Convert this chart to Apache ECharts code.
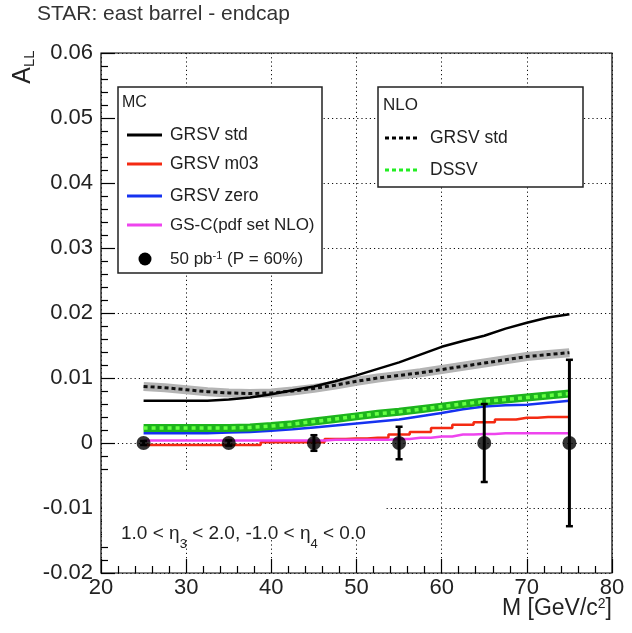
<!DOCTYPE html>
<html>
<head>
<meta charset="utf-8">
<script src="https://cdn.jsdelivr.net/npm/echarts@6/dist/echarts.min.js"></script>
<style>
  html, body { margin: 0; padding: 0; background: #fff; }
  #chart { width: 632px; height: 633px; }
</style>
</head>
<body>
<div id="chart"></div>
<script>
// Dijet invariant mass bins (GeV/c^2) at which the predictions are sampled
const massBins = [25, 27.5, 30, 32.5, 35, 37.5, 40, 42.5, 45, 47.5, 50, 52.5, 55, 57.5, 60, 62.5, 65, 67.5, 70, 72.5, 75];

// MC predictions of A_LL
const mcGrsvStd  = [0.0065, 0.0065, 0.0065, 0.0065, 0.0067, 0.0070, 0.0075, 0.0081, 0.0087, 0.0095, 0.0104, 0.0114, 0.0124, 0.0136, 0.0148, 0.0157, 0.0165, 0.0176, 0.0185, 0.0193, 0.0198];
const mcGrsvM03  = [-0.0003, -0.0003, -0.0003, -0.0003, -0.0003, -0.0003, 0.0001, 0.0001, 0.0001, 0.0006, 0.0007, 0.0008, 0.0013, 0.0017, 0.0023, 0.0028, 0.0032, 0.0036, 0.0039, 0.0040, 0.0040];
const mcGrsvZero = [0.0015, 0.0015, 0.0015, 0.0015, 0.0016, 0.0017, 0.0019, 0.0021, 0.0024, 0.0027, 0.0030, 0.0033, 0.0036, 0.0041, 0.0046, 0.0052, 0.0056, 0.0058, 0.0059, 0.0062, 0.0065];
const mcGsc      = [0.0004, 0.0004, 0.0004, 0.0004, 0.0004, 0.0004, 0.0004, 0.0004, 0.0004, 0.0005, 0.0005, 0.0005, 0.0006, 0.0008, 0.0010, 0.0013, 0.0014, 0.0015, 0.0015, 0.0015, 0.0015];

// NLO predictions of A_LL
const nloGrsvStd = [0.0087, 0.0085, 0.0082, 0.0079, 0.0077, 0.0076, 0.0077, 0.0080, 0.0084, 0.0089, 0.0095, 0.0100, 0.0104, 0.0108, 0.0113, 0.0118, 0.0123, 0.0128, 0.0133, 0.0136, 0.0139];
const nloDssv    = [0.0023, 0.0023, 0.0023, 0.0023, 0.0023, 0.0024, 0.0026, 0.0029, 0.0033, 0.0037, 0.0041, 0.0045, 0.0048, 0.0052, 0.0056, 0.0060, 0.0064, 0.0067, 0.0070, 0.0073, 0.0076];

// Projected measurement, 50 pb^-1 with P = 60%
const pointMass = [25, 35, 45, 55, 65, 75];
const pointAll  = [0, 0, 0, 0, 0, 0];
const pointErr  = [0.0003, 0.0004, 0.0012, 0.0025, 0.0060, 0.0128];

// Axis tick values
const xTicks = [20, 30, 40, 50, 60, 70, 80];
const yTicks = [-0.02, -0.01, 0, 0.01, 0.02, 0.03, 0.04, 0.05, 0.06];

const FONT = '"Liberation Sans", Arial, Helvetica, sans-serif';
const TXT = '#222';

const zip = (xs, ys) => xs.map((x, i) => [x, ys[i]]);

const chart = echarts.init(document.getElementById('chart'), null, { renderer: 'canvas' });

const dotted = { color: '#111', width: 1, type: [1.2, 3] };

function mcLine(name, values, color, step) {
  return {
    name, type: 'line', data: zip(massBins, values), step: step ? 'middle' : false,
    showSymbol: false, silent: true, z: 3,
    lineStyle: { color, width: 2.5 }
  };
}

const option = {
  animation: false,
  grid: { left: 101, right: 20, top: 53, bottom: 60, show: true, borderColor: '#000', borderWidth: 1.2, backgroundColor: 'transparent' },
  xAxis: {
    type: 'value', min: xTicks[0], max: xTicks[xTicks.length - 1], interval: 10,
    axisLine: { show: false, onZero: false },
    axisTick: { show: true, inside: true, length: 14, lineStyle: { color: '#000', width: 1.2 } },
    minorTick: { show: true, splitNumber: 5, length: 7, lineStyle: { color: '#000', width: 1.2 } },
    splitLine: { show: true, lineStyle: dotted },
    axisLabel: { fontFamily: FONT, fontSize: 22, color: TXT, margin: 4,
      formatter: v => xTicks.includes(Math.round(v)) ? String(Math.round(v)) : '' }
  },
  yAxis: {
    type: 'value', min: yTicks[0], max: yTicks[yTicks.length - 1], interval: 0.01,
    axisLine: { show: false, onZero: false },
    axisTick: { show: true, inside: true, length: 14, lineStyle: { color: '#000', width: 1.2 } },
    minorTick: { show: true, splitNumber: 5, length: 7, lineStyle: { color: '#000', width: 1.2 } },
    splitLine: { show: true, lineStyle: dotted },
    axisLabel: { fontFamily: FONT, fontSize: 22, color: TXT, margin: 8,
      formatter: v => Math.abs(v) < 1e-9 ? '0' : v.toFixed(2) }
  },
  series: [
    // NLO GRSV std: grey band with black dashed centre
    { name: 'NLO GRSV std band', type: 'line', data: zip(massBins, nloGrsvStd), showSymbol: false, silent: true, z: 2,
      lineStyle: { color: '#b4b4b4', width: 9 } },
    { name: 'NLO GRSV std', type: 'line', data: zip(massBins, nloGrsvStd), showSymbol: false, silent: true, z: 3,
      lineStyle: { color: '#111', width: 3, type: [4, 3] } },
    mcLine('GRSV std', mcGrsvStd, '#000', false),
    mcLine('GRSV m03', mcGrsvM03, '#f42a12', true),
    mcLine('GRSV zero', mcGrsvZero, '#1632f0', false),
    mcLine('GS-C', mcGsc, '#ee44ee', true),
    // NLO DSSV: green band with bright green dashes
    { name: 'DSSV band', type: 'line', data: zip(massBins, nloDssv), showSymbol: false, silent: true, z: 4,
      lineStyle: { color: '#1cb41c', width: 8 } },
    { name: 'DSSV', type: 'line', data: zip(massBins, nloDssv), showSymbol: false, silent: true, z: 4,
      lineStyle: { color: '#66ff44', width: 3.5, type: [4, 4] } },
    // statistical error bars
    { name: 'errors', type: 'custom', silent: true, z: 6,
      data: pointMass.map((m, i) => [m, pointAll[i], pointErr[i]]),
      encode: { x: 0, y: 1 },
      renderItem(params, api) {
        const x = api.value(0), y = api.value(1), e = api.value(2);
        const t = api.coord([x, y + e]);
        const b = api.coord([x, y - e]);
        const st = { stroke: '#000', lineWidth: 3 };
        return { type: 'group', children: [
          { type: 'line', shape: { x1: t[0], y1: t[1], x2: b[0], y2: b[1] }, style: st },
          { type: 'line', shape: { x1: t[0] - 3.5, y1: t[1], x2: t[0] + 3.5, y2: t[1] }, style: { stroke: '#000', lineWidth: 2.5 } },
          { type: 'line', shape: { x1: b[0] - 3.5, y1: b[1], x2: b[0] + 3.5, y2: b[1] }, style: { stroke: '#000', lineWidth: 2.5 } }
        ] };
      }
    },
    { name: '50 pb-1', type: 'scatter', data: zip(pointMass, pointAll), symbol: 'circle', symbolSize: 14, silent: true, z: 7,
      itemStyle: { color: '#000' } }
  ],
  graphic: [
    // title
    { type: 'text', left: 37, top: 4, z: 20, style: { text: 'STAR: east barrel - endcap', font: '21px ' + FONT, fill: '#333' } },
    // y-axis title
    { type: 'text', x: 23, y: 67, rotation: Math.PI / 2, z: 20,
      style: { text: '{a|A}{s|LL}', align: 'center', verticalAlign: 'middle', fill: TXT,
        rich: { a: { fontFamily: FONT, fontSize: 25, lineHeight: 28, fill: TXT, color: TXT },
                s: { fontFamily: FONT, fontSize: 15, lineHeight: 15, verticalAlign: 'bottom', fill: TXT, color: TXT } } } },
    // x-axis title
    { type: 'text', x: 612, y: 609, z: 20,
      style: { text: 'M [GeV/c{p|2}]', align: 'right', verticalAlign: 'middle', font: '23px ' + FONT, fill: TXT,
        rich: { p: { fontFamily: FONT, fontSize: 14, lineHeight: 14, verticalAlign: 'top', fill: TXT, color: TXT } } } },
    // kinematic range annotation on a white patch
    { type: 'rect', shape: { x: 102, y: 473, width: 283, height: 67 }, z: 1, style: { fill: '#fff' } },
    { type: 'text', x: 121, y: 534, z: 20,
      style: { text: '{n|1.0 < η}{s|3}{n| < 2.0, -1.0 < η}{s|4}{n| < 0.0}', verticalAlign: 'middle', fill: TXT,
        rich: { n: { fontFamily: FONT, fontSize: 19, lineHeight: 34, fill: TXT, color: TXT },
                s: { fontFamily: FONT, fontSize: 13, lineHeight: 14, verticalAlign: 'bottom', fill: TXT, color: TXT } } } },

    // MC legend box
    { type: 'rect', shape: { x: 118, y: 87, width: 204, height: 186 }, z: 30, style: { fill: '#fff', stroke: '#222', lineWidth: 1.5 } },
    { type: 'text', x: 122, y: 103, z: 31, style: { text: 'MC', verticalAlign: 'middle', font: '16px ' + FONT, fill: TXT } },
    { type: 'line', shape: { x1: 127, y1: 135, x2: 162, y2: 135 }, z: 31, style: { stroke: '#000', lineWidth: 3 } },
    { type: 'text', x: 170, y: 135, z: 31, style: { text: 'GRSV std', verticalAlign: 'middle', font: '17.5px ' + FONT, fill: TXT } },
    { type: 'line', shape: { x1: 127, y1: 164, x2: 162, y2: 164 }, z: 31, style: { stroke: '#f42a12', lineWidth: 3 } },
    { type: 'text', x: 170, y: 164, z: 31, style: { text: 'GRSV m03', verticalAlign: 'middle', font: '17.5px ' + FONT, fill: TXT } },
    { type: 'line', shape: { x1: 127, y1: 196, x2: 162, y2: 196 }, z: 31, style: { stroke: '#1632f0', lineWidth: 3 } },
    { type: 'text', x: 170, y: 196, z: 31, style: { text: 'GRSV zero', verticalAlign: 'middle', font: '17.5px ' + FONT, fill: TXT } },
    { type: 'line', shape: { x1: 127, y1: 225, x2: 162, y2: 225 }, z: 31, style: { stroke: '#ee44ee', lineWidth: 3 } },
    { type: 'text', x: 170, y: 225, z: 31, style: { text: 'GS-C(pdf set NLO)', verticalAlign: 'middle', font: '17px ' + FONT, fill: TXT } },
    { type: 'circle', shape: { cx: 145, cy: 259, r: 6.5 }, z: 31, style: { fill: '#000' } },
    { type: 'text', x: 170, y: 259, z: 31,
      style: { text: '50 pb{p|-1} (P = 60%)', verticalAlign: 'middle', font: '17px ' + FONT, fill: TXT,
        rich: { p: { fontFamily: FONT, fontSize: 11, lineHeight: 11, verticalAlign: 'top', fill: TXT, color: TXT } } } },

    // NLO legend box
    { type: 'rect', shape: { x: 378, y: 87, width: 205, height: 100 }, z: 30, style: { fill: '#fff', stroke: '#222', lineWidth: 1.5 } },
    { type: 'text', x: 383, y: 105, z: 31, style: { text: 'NLO', verticalAlign: 'middle', font: '17px ' + FONT, fill: TXT } },
    { type: 'line', shape: { x1: 385, y1: 138, x2: 419, y2: 138 }, z: 31, style: { stroke: '#000', lineWidth: 3, lineDash: [4, 3] } },
    { type: 'text', x: 430, y: 138, z: 31, style: { text: 'GRSV std', verticalAlign: 'middle', font: '17.5px ' + FONT, fill: TXT } },
    { type: 'line', shape: { x1: 385, y1: 170, x2: 419, y2: 170 }, z: 31, style: { stroke: '#22ee22', lineWidth: 3, lineDash: [4, 3] } },
    { type: 'text', x: 430, y: 170, z: 31, style: { text: 'DSSV', verticalAlign: 'middle', font: '17.5px ' + FONT, fill: TXT } }
  ]
};

chart.setOption(option);
</script>
</body>
</html>
